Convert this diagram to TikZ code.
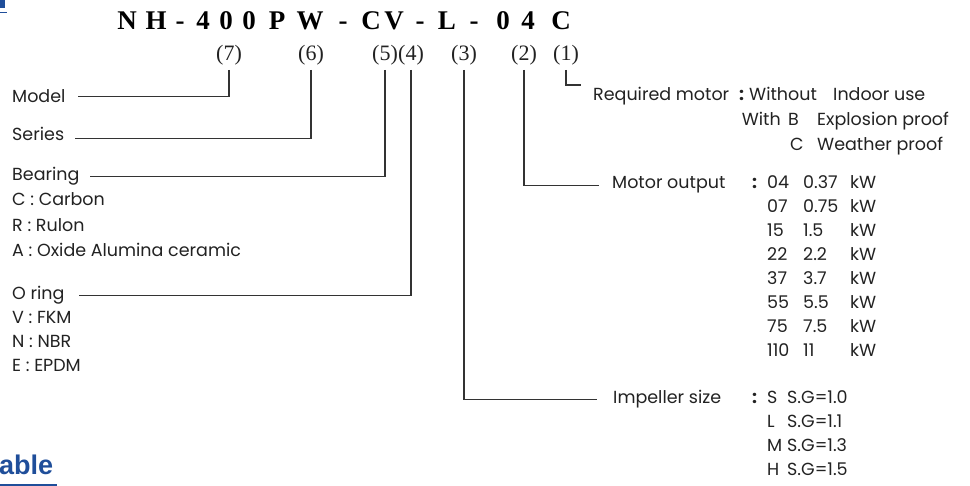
\documentclass[tikz,border=0pt]{standalone}
\usepackage{fontspec}
\newfontfamily\bodyfont{Poppins}
\newfontfamily\serifb{Liberation Serif}
\newfontfamily\headfont{Liberation Sans}
\definecolor{hblue}{HTML}{1F4E9A}
\definecolor{ink}{HTML}{222222}
\begin{document}
\begin{tikzpicture}[x=1pt,y=-1pt,
  txt/.style={anchor=base west, inner sep=0pt, font=\bodyfont\fontsize{17.5}{19}\selectfont, text=ink},
  num/.style={anchor=base, inner sep=0pt, font=\serifb\fontsize{22}{24}\selectfont, text=ink},
  ttl/.style={anchor=base, inner sep=0pt, font=\serifb\bfseries\fontsize{27}{28}\selectfont, text=black},
  conn/.style={draw=black!80, line width=1.2pt}]
\useasboundingbox (0,0) rectangle (970,486);
% cropped heading marks
\fill[hblue] (0,0) rectangle (5,8);
\draw[hblue, line width=1.5pt] (0,12.5) -- (7,12.5);
\node[anchor=base west, inner sep=0pt, font=\headfont\bfseries\fontsize{27}{28}\selectfont, text=hblue] (tab) at (-1,475) {able};
\draw[hblue, line width=2pt] (0,485) -- (57,485);
% title
\foreach \c/\x [count=\i] in {N/127,H/156,-/180,4/203,0/226,0/249,P/277,W/310,-/343,C/371,V/394,-/420,L/447,-/474,0/503,4/528,C/561}
  \node[ttl] (t\i) at (\x,30) {\c};
% position labels
\node[num] (l7) at (229,61) {(7)};
\node[num] (l6) at (311,61) {(6)};
\node[num] (l5) at (385,61) {(5)};
\node[num] (l4) at (411,61) {(4)};
\node[num] (l3) at (464,61) {(3)};
\node[num] (l2) at (524,61) {(2)};
\node[num] (l1) at (566,61) {(1)};
% left texts
\node[txt] (model) at (12,103) {Model};
\node[txt] (series) at (12,141) {Series};
\node[txt] (bearing) at (12,181) {Bearing};
\node[txt] (bc) at (12,206) {C : Carbon};
\node[txt] (br) at (12,232) {R : Rulon};
\node[txt] (ba) at (12,257) {A : Oxide Alumina ceramic};
\node[txt] (oring) at (12,300) {O ring};
\node[txt] (ov) at (12,324) {V : FKM};
\node[txt] (on) at (12,348) {N : NBR};
\node[txt] (oe) at (12,372) {E : EPDM};
% required motor
\node[txt] (req) at (593,101) {Required motor};
\node[txt] (reqc) at (739,101) {\textbf{:}};
\node[txt] (r11) at (749,101) {Without};
\node[txt] (r12) at (833,101) {Indoor use};
\node[txt, anchor=base east] (r21) at (781,126) {With};
\node[txt] (r22) at (788,126) {B};
\node[txt] (r23) at (817,126) {Explosion proof};
\node[txt] (r32) at (790,151) {C};
\node[txt] (r33) at (817,151) {Weather proof};
% motor output
\node[txt] (mot) at (612,189) {Motor output};
\node[txt] (motc) at (752,189) {\textbf{:}};
\foreach \a/\b [count=\i] in {04/0.37,07/0.75,15/1.5,22/2.2,37/3.7,55/5.5,75/7.5,110/11}{
  \node[txt] (mc\i) at (767,{189+23.9*(\i-1)}) {\a};
  \node[txt] (mv\i) at (803,{189+23.9*(\i-1)}) {\b};
  \node[txt] (mk\i) at (850,{189+23.9*(\i-1)}) {kW};
}
% impeller size
\node[txt] (imp) at (613,404) {Impeller size};
\node[txt] (impc) at (752,404) {\textbf{:}};
\foreach \a/\b [count=\i] in {S/1.0,L/1.1,M/1.3,H/1.5}{
  \node[txt] (ic\i) at (767,{404+23.7*(\i-1)}) {\a};
  \node[txt] (iv\i) at (787,{404+23.7*(\i-1)}) {S.G=\b};
}
% connectors
\draw[conn, shorten <=4pt, shorten >=12pt] (l7.south) |- (model.east);
\draw[conn, shorten <=4pt, shorten >=11pt] (l6.south) |- ([yshift=-4pt]series.east);
\draw[conn, shorten <=4pt, shorten >=10pt] (l5.south) |- (bearing.east);
\draw[conn, shorten <=4pt, shorten >=14pt] (l4.south) |- (oring.east);
\draw[conn, shorten <=4pt, shorten >=16pt] (l3.south) |- (imp.west);
\draw[conn, shorten <=4pt, shorten >=13pt] (l2.south) |- (mot.west);
\coordinate (r1end) at (581,85);
\draw[conn, shorten <=4pt] (l1.south) |- (r1end);
\end{tikzpicture}
\end{document}
